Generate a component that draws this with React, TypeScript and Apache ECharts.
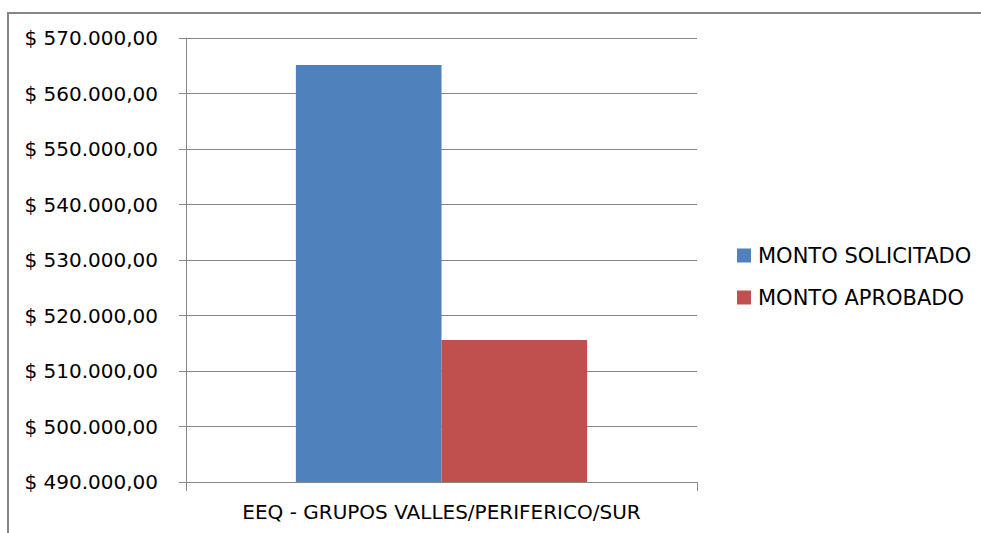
import React, { useEffect, useRef } from "react";
import * as echarts from "echarts";

const categories = ["EEQ - GRUPOS VALLES/PERIFERICO/SUR"];
const seriesNames = ["MONTO SOLICITADO", "MONTO APROBADO"];
const solicitado = [565150];
const aprobado = [515600];
const colors = ["#4F81BD", "#C0504D"];

function fmt(v: number): string {
  const parts = Math.round(v).toString().replace(/\B(?=(\d{3})+(?!\d))/g, ".");
  return "$ " + parts + ",00";
}

export default function App() {
  const ref = useRef<HTMLDivElement>(null);
  useEffect(() => {
    if (!ref.current) return;
    const chart = echarts.init(ref.current, null, { renderer: "svg" });
    const font = "'DejaVu Sans', sans-serif";
    chart.setOption({
      animation: false,
      backgroundColor: "#ffffff",
      textStyle: { fontFamily: font },
      graphic: [
        {
          type: "rect",
          shape: { x: 8, y: 13, width: 1000, height: 560 },
          style: { fill: "none", stroke: "#868686", lineWidth: 2 },
          silent: true,
          z: -1,
        },
      ],
      grid: { left: 186, top: 38, right: 284, bottom: 51, containLabel: false },
      legend: {
        orient: "vertical",
        left: 732,
        top: 240,
        itemWidth: 14,
        itemHeight: 14,
        itemGap: 21,
        icon: "rect",
        textStyle: {
          fontSize: 21,
          lineHeight: 21,
          color: "#000",
          fontFamily: font,
          padding: [0, 0, 0, 2],
        },
        data: seriesNames,
      },
      xAxis: {
        type: "category",
        data: categories,
        axisLine: { lineStyle: { color: "#868686", width: 1 } },
        axisTick: { show: true, length: 9, lineStyle: { color: "#868686" }, alignWithLabel: false },
        axisLabel: { fontSize: 20, color: "#000", margin: 20, fontFamily: font },
      },
      yAxis: {
        type: "value",
        min: 490000,
        max: 570000,
        interval: 10000,
        axisLine: { show: true, lineStyle: { color: "#868686", width: 1 } },
        axisTick: { show: true, length: 7, lineStyle: { color: "#868686" } },
        splitLine: { lineStyle: { color: "#868686", width: 1 } },
        axisLabel: {
          fontSize: 20,
          color: "#000",
          margin: 28,
          formatter: (v: number) => fmt(v),
          fontFamily: font,
        },
      },
      series: [
        {
          name: seriesNames[0],
          type: "bar",
          data: solicitado,
          itemStyle: { color: colors[0] },
          barGap: "0%",
          barCategoryGap: "43%",
        },
        {
          name: seriesNames[1],
          type: "bar",
          data: aprobado,
          itemStyle: { color: colors[1] },
          barGap: "0%",
          barCategoryGap: "43%",
        },
      ],
    });
    return () => chart.dispose();
  }, []);
  return (
    <div
      ref={ref}
      style={{ position: "fixed", left: 0, top: 0, width: 981, height: 533 }}
    />
  );
}
